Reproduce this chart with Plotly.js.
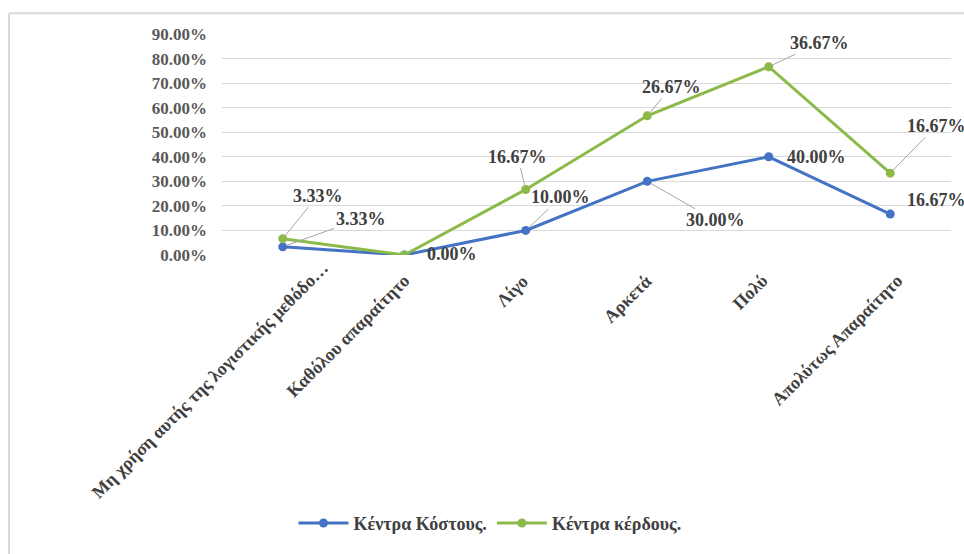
<!DOCTYPE html>
<html>
<head>
<meta charset="utf-8">
<script src="https://cdn.plot.ly/plotly-3.0.1.min.js"></script>
<style>html,body{margin:0;padding:0;background:#fff;}#chart{width:964px;height:554px;}</style>
</head>
<body>
<div id="chart"></div>
<script>
// Data (stacked line chart, values in %)
const categories = [
  "Μη χρήση αυτής της λογιστικής μεθόδο…",
  "Καθόλου απαραίτητο",
  "Λίγο",
  "Αρκετά",
  "Πολύ",
  "Απολύτως Απαραίτητο"
];
const seriesNames = ["Κέντρα Κόστους.", "Κέντρα κέρδους."];
const costCenters = [3.33, 0.00, 10.00, 30.00, 40.00, 16.67];
const profitCenters = [3.33, 0.00, 16.67, 26.67, 36.67, 16.67];
const yTickValues = [0, 10, 20, 30, 40, 50, 60, 70, 80, 90];

// stacked top of second series
const profitStacked = profitCenters.map((v, i) => v + costCenters[i]);
const fmt = v => v.toFixed(2) + "%";

const blue = "#4472C4";
const green = "#8CBA4A";
const serif = "Liberation Serif, DejaVu Serif, serif";

const traces = [
  {
    type: "scatter", mode: "lines+markers", name: seriesNames[0],
    x: categories, y: costCenters,
    line: {color: blue, width: 3}, marker: {color: blue, size: 9}
  },
  {
    type: "scatter", mode: "lines+markers", name: seriesNames[1],
    x: categories, y: profitStacked,
    line: {color: green, width: 3}, marker: {color: green, size: 9}
  }
];

// label offsets (pixels) and whether a leader line is drawn
const blueOff = [[78, -28, true], [48, -1, false], [35, -33, true], [68, 39, true], [48, 0, false], [46, -14, false]];
const greenOff = [[35, -43, true], [0, 0, false], [-8, -33, true], [24, -29, true], [51, -24, true], [46, -47, true]];

const annotations = [];
function addLabels(vals, yvals, offs) {
  vals.forEach((v, i) => {
    if (offs[i][0] === 0 && offs[i][1] === 0) return;
    annotations.push({
      x: categories[i], y: yvals[i], xref: "x", yref: "y",
      text: fmt(v),
      showarrow: true,
      arrowhead: 0, arrowwidth: offs[i][2] ? 1 : 0.01,
      arrowcolor: offs[i][2] ? "#A6A6A6" : "rgba(0,0,0,0)",
      ax: offs[i][0], ay: offs[i][1], standoff: 4,
      font: {family: serif, size: 18, color: "#404040", weight: "bold"}
    });
  });
}
addLabels(costCenters, costCenters, blueOff);
addLabels(profitCenters, profitStacked, greenOff);

// rotated category labels (drawn as annotations to mimic the reference placement)
const catShift = [[52, 0], [12, -13], [9, -13], [11, -13], [6, -13], [19, -13]];
categories.forEach((c, i) => {
  annotations.push({
    x: c, y: 0, xref: "x", yref: "paper",
    text: c, showarrow: false, textangle: -45,
    xanchor: "right", yanchor: "top",
    xshift: catShift[i][0], yshift: catShift[i][1],
    font: {family: serif, size: 18, color: "#404040", weight: "bold"}
  });
});

const layout = {
  width: 964, height: 554,
  margin: {l: 222, r: 13, t: 34, b: 296},
  paper_bgcolor: "#fff", plot_bgcolor: "#fff",
  showlegend: true,
  legend: {
    orientation: "h", x: 0.3676, xanchor: "center", y: -1.214, yanchor: "middle",
    font: {family: serif, size: 18, color: "#404040", weight: "bold"},
    itemwidth: 50, tracegroupgap: 0
  },
  xaxis: {
    type: "category",
    showticklabels: false,
    showgrid: false, zeroline: false, showline: false, ticks: "",
    range: [-0.5, 5.5]
  },
  yaxis: {
    range: [0, 90],
    tickvals: yTickValues,
    ticktext: yTickValues.map(v => v.toFixed(2) + "%"),
    tickfont: {family: serif, size: 17, color: "#595959", weight: "bold"},
    gridcolor: "#D9D9D9", gridwidth: 1,
    zeroline: false, showline: false, ticks: "",
    ticklabelstandoff: 14
  },
  shapes: [
    {type: "line", xref: "paper", yref: "paper", x0: -0.2922, x1: -0.2922, y0: 1.094, y1: -1.4, line: {color: "#D9D9D9", width: 2}},
    {type: "line", xref: "paper", yref: "paper", x0: -0.2922, x1: 1.03, y0: 1.094, y1: 1.094, line: {color: "#D9D9D9", width: 2}}
  ],
  annotations: annotations
};

Plotly.newPlot("chart", traces, layout, {displayModeBar: false, staticPlot: true});
</script>
</body>
</html>
